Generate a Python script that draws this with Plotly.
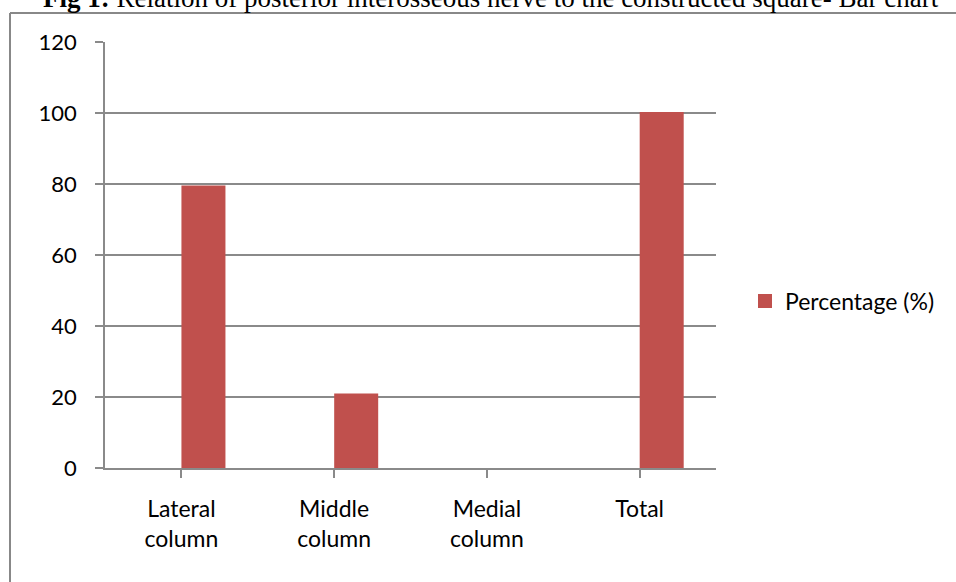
import plotly.graph_objects as go

categories = ["Lateral<br>column", "Middle<br>column", "Medial<br>column", "Total"]
percentages = [79.3, 20.7, 0, 100]
series_name = "Percentage (%)"
y_ticks = [0, 20, 40, 60, 80, 100, 120]
title_bold = "Fig 1:"
title_rest = " Relation of posterior interosseous nerve to the constructed square- Bar chart"

L, R, T, B = 105, 240, 42, 114
W, H = 956, 582
pw, ph = W - L - R, H - T - B

def px_x(p):
    return (p - L) / pw

def px_y(p):
    return (H - B - p) / ph

bar_color = "#C0504D"
outline_widths = [2 if v > 0 else 0 for v in percentages]
fig = go.Figure()
fig.add_trace(go.Bar(
    x=list(range(len(categories))), y=percentages, name=series_name,
    marker=dict(color=bar_color, line=dict(width=outline_widths, color=bar_color)),
    width=0.275, offset=0.007, showlegend=True,
))

grid = "#8A8A8A"
tick_font = dict(family="Lato", size=22, color="#000000")
text_font = dict(family="Lato", size=23, color="#000000")

fig.update_layout(
    width=W, height=H,
    margin=dict(l=L, r=R, t=T, b=B, pad=0),
    paper_bgcolor="white", plot_bgcolor="white",
    font=text_font,
    showlegend=True,
    legend=dict(x=px_x(745), y=px_y(301), xanchor="left", yanchor="middle",
                font=text_font, bgcolor="rgba(0,0,0,0)", itemwidth=30),
    xaxis=dict(
        tickmode="array", tickvals=list(range(len(categories))), ticktext=categories,
        range=[-0.5, len(categories) - 0.5],
        showline=True, linecolor=grid, linewidth=1.5,
        ticks="outside", ticklen=8, tickcolor=grid, tickwidth=1.5,
        tickson="boundaries", showgrid=False, ticklabelstandoff=12,
        tickfont=text_font,
    ),
    yaxis=dict(
        range=[0, 120], tickvals=y_ticks,
        showline=True, linecolor=grid, linewidth=1.5,
        ticks="outside", ticklen=8, tickcolor=grid, tickwidth=1.5,
        showgrid=True, gridcolor=grid, gridwidth=1.5,
        zeroline=False, ticklabelstandoff=14, tickfont=tick_font,
    ),
    shapes=[
        dict(type="line", xref="paper", yref="paper",
             x0=px_x(10), x1=px_x(W + 20), y0=px_y(13), y1=px_y(13),
             line=dict(color="#888888", width=2)),
        dict(type="line", xref="paper", yref="paper",
             x0=px_x(10), x1=px_x(10), y0=px_y(13), y1=px_y(H + 20),
             line=dict(color="#888888", width=2)),
    ],
    annotations=[
        dict(xref="paper", yref="paper", x=px_x(491), y=px_y(15),
             xanchor="center", yanchor="bottom", showarrow=False,
             text="<b>" + title_bold + "</b>" + title_rest,
             font=dict(family="Liberation Serif", size=27, color="#000000")),
    ],
)

fig.write_html("out.html")
